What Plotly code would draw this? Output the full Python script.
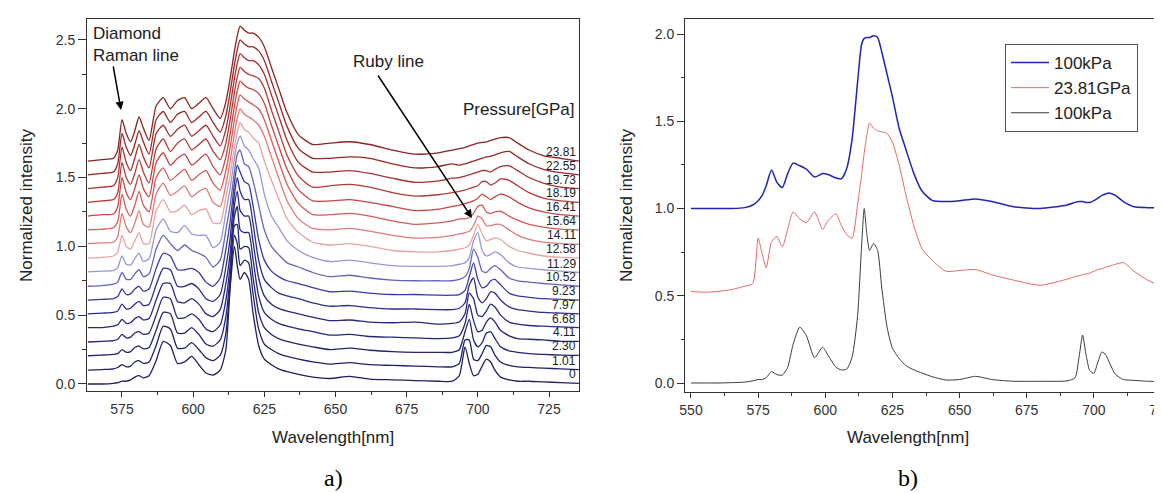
import plotly.graph_objects as go

W, H = 1162, 493
FONT = "Liberation Sans, Arial, sans-serif"

# ---------------- panel a) : stacked spectra ----------------
wavelength_a = [563, 568, 572, 573.5, 575, 576.5, 578, 579.5, 581, 582.5, 584.5,
                587, 589.5, 592, 594.5, 597, 599.5, 602, 604.5, 607, 609.5, 611.5,
                613, 614.5, 615.5, 616.5, 618, 619.5, 621, 623, 625, 627.5, 630, 633, 637,
                642, 648, 655, 662, 670, 678, 686, 691,
                693.5, 695.5, 697, 698.5, 700, 701.5, 703, 704.5, 706, 708, 711, 714, 718, 723, 729, 735.5]

pressure_labels = ["0", "1.01", "2.30", "4.11", "6.68", "7.97", "9.23", "10.52", "11.29",
                   "12.58", "14.11", "15.64", "16.41", "18.19", "19.73", "22.55", "23.81"]
offsets_a = [0.0, 0.1, 0.2, 0.3, 0.4, 0.5, 0.6, 0.7, 0.8, 0.9, 1.0, 1.1, 1.2, 1.3, 1.4, 1.5, 1.6]

spec_a_00 = [0.00, 0.00, 0.005, 0.01, 0.02, 0.02, 0.03, 0.05, 0.06, 0.045, 0.06,
             0.17, 0.31, 0.28, 0.15, 0.16, 0.20, 0.14, 0.08, 0.065, 0.10, 0.25,
             0.70, 1.00, 0.86, 0.76, 0.81, 0.76, 0.52, 0.28, 0.18, 0.14, 0.11, 0.09, 0.07,
             0.05, 0.04, 0.055, 0.035, 0.03, 0.025, 0.02, 0.02,
             0.06, 0.27, 0.15, 0.06, 0.07, 0.13, 0.18, 0.16, 0.10, 0.05, 0.03, 0.02, 0.02, 0.015, 0.01, 0.005]
spec_a_01 = [0.00, 0.005, 0.01, 0.02, 0.04, 0.025, 0.03, 0.06, 0.07, 0.05, 0.06,
             0.18, 0.32, 0.30, 0.16, 0.16, 0.20, 0.15, 0.09, 0.07, 0.11, 0.27,
             0.62, 0.98, 0.92, 0.76, 0.80, 0.78, 0.56, 0.30, 0.19, 0.15, 0.12, 0.10, 0.08,
             0.06, 0.045, 0.055, 0.04, 0.035, 0.03, 0.025, 0.025,
             0.05, 0.22, 0.22, 0.08, 0.07, 0.12, 0.18, 0.17, 0.11, 0.06, 0.035, 0.025, 0.02, 0.015, 0.01, 0.005]
spec_a_02 = [0.005, 0.01, 0.015, 0.02, 0.05, 0.03, 0.035, 0.065, 0.075, 0.055, 0.065,
             0.19, 0.32, 0.31, 0.17, 0.17, 0.21, 0.16, 0.09, 0.075, 0.12, 0.29,
             0.58, 0.95, 0.96, 0.78, 0.80, 0.79, 0.58, 0.32, 0.21, 0.16, 0.13, 0.11, 0.09,
             0.07, 0.05, 0.06, 0.045, 0.035, 0.03, 0.03, 0.03,
             0.05, 0.18, 0.27, 0.12, 0.07, 0.10, 0.17, 0.18, 0.13, 0.07, 0.04, 0.03, 0.02, 0.015, 0.01, 0.008]
spec_a_03 = [0.005, 0.01, 0.015, 0.025, 0.06, 0.035, 0.04, 0.07, 0.08, 0.06, 0.07,
             0.20, 0.33, 0.32, 0.18, 0.18, 0.21, 0.17, 0.10, 0.08, 0.13, 0.31,
             0.56, 0.92, 0.99, 0.82, 0.80, 0.80, 0.61, 0.34, 0.22, 0.17, 0.14, 0.12, 0.10,
             0.08, 0.055, 0.06, 0.045, 0.04, 0.035, 0.03, 0.035,
             0.05, 0.14, 0.28, 0.16, 0.08, 0.09, 0.15, 0.18, 0.15, 0.09, 0.05, 0.03, 0.025, 0.02, 0.01, 0.01]
spec_a_04 = [0.01, 0.01, 0.02, 0.03, 0.07, 0.04, 0.045, 0.075, 0.09, 0.065, 0.075,
             0.21, 0.33, 0.33, 0.20, 0.19, 0.22, 0.18, 0.11, 0.09, 0.14, 0.33,
             0.55, 0.90, 1.00, 0.86, 0.82, 0.82, 0.64, 0.37, 0.24, 0.18, 0.15, 0.13, 0.11,
             0.085, 0.06, 0.065, 0.05, 0.045, 0.05, 0.035, 0.04,
             0.05, 0.11, 0.26, 0.22, 0.10, 0.09, 0.13, 0.18, 0.16, 0.10, 0.05, 0.035, 0.025, 0.02, 0.015, 0.01]
spec_a_05 = [0.01, 0.015, 0.02, 0.03, 0.08, 0.045, 0.05, 0.08, 0.10, 0.07, 0.08,
             0.22, 0.34, 0.33, 0.21, 0.21, 0.23, 0.19, 0.12, 0.10, 0.15, 0.35,
             0.56, 0.88, 1.00, 0.90, 0.84, 0.84, 0.67, 0.40, 0.26, 0.20, 0.16, 0.14, 0.12,
             0.09, 0.065, 0.07, 0.055, 0.045, 0.045, 0.04, 0.04,
             0.05, 0.09, 0.22, 0.27, 0.13, 0.09, 0.12, 0.17, 0.16, 0.11, 0.06, 0.04, 0.03, 0.02, 0.015, 0.01]
spec_a_06 = [0.01, 0.015, 0.02, 0.035, 0.09, 0.05, 0.055, 0.09, 0.11, 0.075, 0.09,
             0.24, 0.35, 0.33, 0.23, 0.23, 0.24, 0.21, 0.14, 0.11, 0.17, 0.38,
             0.58, 0.86, 0.99, 0.94, 0.87, 0.85, 0.70, 0.45, 0.30, 0.22, 0.18, 0.15, 0.13,
             0.10, 0.07, 0.075, 0.06, 0.05, 0.05, 0.045, 0.045,
             0.05, 0.08, 0.18, 0.28, 0.16, 0.10, 0.11, 0.15, 0.16, 0.12, 0.06, 0.04, 0.03, 0.02, 0.015, 0.01]
spec_a_07 = [0.01, 0.015, 0.025, 0.04, 0.11, 0.06, 0.06, 0.10, 0.13, 0.08, 0.10,
             0.28, 0.38, 0.32, 0.27, 0.31, 0.27, 0.25, 0.22, 0.15, 0.20, 0.42,
             0.60, 0.84, 0.97, 1.00, 0.90, 0.88, 0.78, 0.60, 0.42, 0.30, 0.24, 0.18, 0.15,
             0.11, 0.08, 0.09, 0.07, 0.055, 0.05, 0.05, 0.05,
             0.06, 0.08, 0.14, 0.28, 0.22, 0.12, 0.11, 0.14, 0.16, 0.13, 0.07, 0.05, 0.04, 0.03, 0.02, 0.01]
spec_a_08 = [0.015, 0.02, 0.025, 0.045, 0.13, 0.07, 0.065, 0.11, 0.15, 0.09, 0.11,
             0.32, 0.40, 0.31, 0.30, 0.35, 0.29, 0.28, 0.28, 0.19, 0.23, 0.45,
             0.62, 0.84, 0.95, 1.00, 0.93, 0.90, 0.84, 0.77, 0.58, 0.42, 0.34, 0.24, 0.17,
             0.12, 0.09, 0.10, 0.08, 0.06, 0.055, 0.055, 0.06,
             0.07, 0.08, 0.12, 0.24, 0.30, 0.17, 0.13, 0.14, 0.16, 0.14, 0.08, 0.05, 0.04, 0.03, 0.02, 0.01]
spec_a_09 = [0.015, 0.02, 0.03, 0.06, 0.18, 0.10, 0.08, 0.14, 0.20, 0.12, 0.12,
             0.36, 0.44, 0.35, 0.36, 0.40, 0.33, 0.36, 0.37, 0.27, 0.27, 0.46,
             0.62, 0.82, 0.93, 1.00, 0.95, 0.93, 0.89, 0.85, 0.72, 0.58, 0.45, 0.30, 0.20,
             0.13, 0.11, 0.12, 0.10, 0.07, 0.06, 0.06, 0.07,
             0.08, 0.09, 0.11, 0.18, 0.26, 0.19, 0.14, 0.15, 0.16, 0.15, 0.10, 0.07, 0.05, 0.03, 0.02, 0.015]
spec_a_10 = [0.02, 0.025, 0.03, 0.07, 0.24, 0.14, 0.10, 0.17, 0.26, 0.16, 0.14,
             0.38, 0.46, 0.37, 0.40, 0.44, 0.36, 0.40, 0.42, 0.32, 0.29, 0.45,
             0.62, 0.82, 0.93, 1.00, 0.96, 0.94, 0.92, 0.88, 0.80, 0.65, 0.50, 0.33, 0.20,
             0.13, 0.12, 0.13, 0.11, 0.08, 0.06, 0.065, 0.08,
             0.09, 0.10, 0.11, 0.15, 0.22, 0.20, 0.15, 0.15, 0.16, 0.16, 0.12, 0.08, 0.05, 0.03, 0.02, 0.015]
spec_a_11 = [0.02, 0.025, 0.035, 0.08, 0.28, 0.17, 0.12, 0.20, 0.30, 0.20, 0.15,
             0.40, 0.47, 0.38, 0.42, 0.46, 0.38, 0.42, 0.45, 0.36, 0.31, 0.45,
             0.62, 0.82, 0.93, 1.00, 0.97, 0.95, 0.93, 0.90, 0.82, 0.67, 0.52, 0.35, 0.21,
             0.13, 0.13, 0.14, 0.12, 0.085, 0.06, 0.07, 0.085,
             0.10, 0.10, 0.11, 0.14, 0.19, 0.20, 0.15, 0.14, 0.15, 0.155, 0.12, 0.09, 0.06, 0.04, 0.025, 0.02]
spec_a_12 = [0.02, 0.03, 0.035, 0.09, 0.30, 0.19, 0.14, 0.22, 0.32, 0.22, 0.16,
             0.41, 0.48, 0.39, 0.44, 0.47, 0.39, 0.43, 0.47, 0.38, 0.32, 0.45,
             0.62, 0.82, 0.93, 1.00, 0.97, 0.95, 0.94, 0.91, 0.84, 0.68, 0.53, 0.36, 0.21,
             0.13, 0.13, 0.14, 0.12, 0.09, 0.06, 0.07, 0.09,
             0.10, 0.11, 0.12, 0.13, 0.15, 0.18, 0.16, 0.14, 0.16, 0.18, 0.16, 0.12, 0.08, 0.05, 0.03, 0.02]
spec_a_13 = [0.02, 0.03, 0.04, 0.09, 0.31, 0.20, 0.15, 0.23, 0.33, 0.24, 0.16,
             0.41, 0.48, 0.39, 0.45, 0.48, 0.40, 0.44, 0.48, 0.39, 0.33, 0.45,
             0.62, 0.82, 0.93, 1.00, 0.97, 0.95, 0.94, 0.92, 0.85, 0.69, 0.54, 0.36, 0.21,
             0.13, 0.14, 0.15, 0.13, 0.09, 0.065, 0.075, 0.09,
             0.10, 0.11, 0.12, 0.13, 0.14, 0.17, 0.17, 0.145, 0.16, 0.19, 0.18, 0.14, 0.09, 0.05, 0.03, 0.02]
spec_a_14 = [0.02, 0.03, 0.04, 0.10, 0.32, 0.21, 0.15, 0.24, 0.34, 0.25, 0.17,
             0.42, 0.48, 0.40, 0.45, 0.48, 0.40, 0.44, 0.48, 0.40, 0.33, 0.45,
             0.62, 0.82, 0.93, 1.00, 0.97, 0.95, 0.95, 0.92, 0.85, 0.70, 0.55, 0.37, 0.21,
             0.14, 0.14, 0.15, 0.13, 0.095, 0.065, 0.075, 0.095,
             0.10, 0.11, 0.12, 0.13, 0.14, 0.15, 0.15, 0.14, 0.16, 0.18, 0.185, 0.15, 0.10, 0.06, 0.03, 0.02]
spec_a_15 = [0.02, 0.03, 0.04, 0.10, 0.32, 0.22, 0.16, 0.24, 0.34, 0.26, 0.17,
             0.42, 0.48, 0.40, 0.46, 0.48, 0.40, 0.44, 0.48, 0.40, 0.33, 0.45,
             0.62, 0.82, 0.93, 1.00, 0.97, 0.95, 0.95, 0.92, 0.85, 0.70, 0.55, 0.37, 0.21,
             0.14, 0.14, 0.15, 0.14, 0.10, 0.07, 0.08, 0.10,
             0.09, 0.10, 0.11, 0.12, 0.13, 0.14, 0.15, 0.155, 0.165, 0.18, 0.19, 0.15, 0.10, 0.06, 0.035, 0.02]
spec_a_16 = [0.02, 0.03, 0.04, 0.10, 0.32, 0.22, 0.16, 0.24, 0.34, 0.26, 0.17,
             0.42, 0.48, 0.40, 0.46, 0.48, 0.40, 0.44, 0.48, 0.40, 0.33, 0.45,
             0.62, 0.82, 0.93, 1.00, 0.97, 0.95, 0.95, 0.92, 0.85, 0.70, 0.55, 0.37, 0.21,
             0.14, 0.15, 0.16, 0.14, 0.10, 0.07, 0.08, 0.10,
             0.11, 0.12, 0.13, 0.14, 0.15, 0.155, 0.16, 0.17, 0.18, 0.19, 0.19, 0.15, 0.10, 0.06, 0.04, 0.02]

spectra_a = [spec_a_00, spec_a_01, spec_a_02, spec_a_03, spec_a_04, spec_a_05, spec_a_06,
             spec_a_07, spec_a_08, spec_a_09, spec_a_10, spec_a_11, spec_a_12, spec_a_13,
             spec_a_14, spec_a_15, spec_a_16]

colors_a = ['#202060', '#222268', '#242470', '#262678', '#282880', '#2c2c8c', '#3a3aa4',
            '#6464c0', '#9898d8', '#e8a4a4', '#e07a7a', '#d45a5a', '#c44646', '#b43a3a',
            '#a63030', '#982828', '#8c2222']

# ---------------- panel b) ----------------
wavelength_b = [550, 555, 560, 565, 570, 573, 575, 576.5, 578, 580, 582, 584, 586, 588, 590.5,
                593, 596, 599, 601, 604, 606, 608, 610, 612, 613.5, 614.5, 615.5, 616.5, 618, 619.5,
                621, 623, 625, 627.5, 630, 633, 636, 640, 645, 650, 656, 662, 670, 680, 690,
                693, 694.5, 695.8, 697, 698.5, 700, 701.5, 703, 704.5, 706, 708, 711, 715, 720, 725, 728.5]

spec_b_released = [0.0, 0.0, 0.0, 0.0, 0.005,
                   0.02, 0.045, 0.075, 0.13, 0.22,
                   0.15, 0.12, 0.20, 0.26, 0.245,
                   0.225, 0.18, 0.20, 0.195, 0.175,
                   0.17, 0.23, 0.40, 0.72, 0.94,
                   0.975, 0.98, 0.98, 0.99, 0.98,
                   0.90, 0.77, 0.64, 0.46, 0.34,
                   0.20, 0.10, 0.045, 0.04, 0.045,
                   0.055, 0.04, 0.01, 0.0, 0.02,
                   0.035, 0.04, 0.04, 0.035, 0.035,
                   0.045, 0.06, 0.075, 0.085, 0.088,
                   0.075, 0.04, 0.01, 0.005, 0.003,
                   0.0]
spec_b_high = [0.025, 0.02, 0.025, 0.035, 0.055,
               0.07, 0.33, 0.24, 0.16, 0.31,
               0.34, 0.28, 0.38, 0.48, 0.44,
               0.42, 0.48, 0.38, 0.43, 0.47,
               0.40, 0.35, 0.33, 0.52, 0.69,
               0.82, 0.92, 0.99, 0.96, 0.945,
               0.94, 0.93, 0.88, 0.75, 0.58,
               0.40, 0.27, 0.20, 0.14, 0.145,
               0.15, 0.12, 0.09, 0.06, 0.095,
               0.11, 0.115, 0.12, 0.125, 0.13,
               0.14, 0.15, 0.155, 0.165, 0.17,
               0.18, 0.19, 0.14, 0.09, 0.055,
               0.04]
spec_b_ambient = [0.0, 0.0, 0.0, 0.002, 0.005,
                  0.012, 0.02, 0.02, 0.03, 0.065,
                  0.048, 0.045, 0.09, 0.22, 0.32,
                  0.27, 0.145, 0.205, 0.16, 0.09,
                  0.075, 0.08, 0.15, 0.38, 0.78,
                  1.0, 0.85, 0.76, 0.80, 0.76,
                  0.55, 0.32, 0.20, 0.14, 0.10,
                  0.075, 0.057, 0.035, 0.017, 0.02,
                  0.038, 0.02, 0.01, 0.01, 0.012,
                  0.03, 0.15, 0.275, 0.17, 0.07,
                  0.055, 0.12, 0.178, 0.16, 0.11,
                  0.05, 0.02, 0.015, 0.01, 0.008,
                  0.005]

spectra_b = [spec_b_released, spec_b_high, spec_b_ambient]
names_b = ["100kPa", "23.81GPa", "100kPa"]
offsets_b = [1.0, 0.5, 0.0]
colors_b = ['#2424b4', '#e26a6a', '#3c3c3c']
widths_b = [1.5, 1.0, 1.0]

fig = go.Figure()

for i, spec in enumerate(spectra_a):
    off = offsets_a[i]
    fig.add_trace(go.Scatter(
        x=wavelength_a, y=[v + off for v in spec], mode='lines',
        line=dict(color=colors_a[i], width=1.3, shape='spline', smoothing=0.6),
        xaxis='x', yaxis='y', showlegend=False, hoverinfo='skip'))
    fig.add_annotation(x=735.3, y=off + spec[-1], xref='x', yref='y',
                       text=pressure_labels[i], showarrow=False,
                       xanchor='right', yanchor='bottom',
                       font=dict(family=FONT, size=12, color='#222'))

for i, spec in enumerate(spectra_b):
    off = offsets_b[i]
    fig.add_trace(go.Scatter(
        x=wavelength_b, y=[v + off for v in spec], mode='lines', name=names_b[i],
        line=dict(color=colors_b[i], width=widths_b[i], shape='spline', smoothing=0.6),
        xaxis='x2', yaxis='y2', showlegend=True, hoverinfo='skip'))

axis_common = dict(showline=True, linecolor='#333', linewidth=1, mirror=True,
                   ticks='outside', tickcolor='#333', tickwidth=1,
                   showgrid=False, zeroline=False, automargin=False,
                   ticklabeloverflow='allow',
                   tickfont=dict(family=FONT, size=14, color='#333'))

fig.update_layout(
    width=W, height=H, autosize=False,
    margin=dict(l=0, r=0, t=0, b=0),
    paper_bgcolor='white', plot_bgcolor='white',
    template='none',
    xaxis=dict(domain=[79 / W, 571 / W], range=[562.71, 735.54], anchor='y',
               tickmode='linear', tick0=0, dtick=25, ticklen=5,
               minor=dict(dtick=12.5, tick0=0, ticklen=3, ticks='outside', tickcolor='#333'),
               **axis_common),
    yaxis=dict(domain=[1 - 383 / H, 1 - 11 / H], range=[-0.051, 2.652], anchor='x',
               tickmode='linear', tick0=0, dtick=0.5, tickformat='.1f', ticklen=8,
               minor=dict(dtick=0.25, tick0=0, ticklen=4, ticks='outside', tickcolor='#333'),
               **axis_common),
    xaxis2=dict(domain=[677 / W, 1.0], range=[547.77, 728.35], anchor='y2',
                tickmode='linear', tick0=0, dtick=25, ticklen=5,
                minor=dict(dtick=12.5, tick0=0, ticklen=3, ticks='outside', tickcolor='#333'),
                **axis_common),
    yaxis2=dict(domain=[1 - 384 / H, 1 - 11 / H], range=[-0.0516, 2.086], anchor='x2',
                tickmode='linear', tick0=0, dtick=0.5, tickformat='.1f', ticklen=7,
                minor=dict(dtick=0.25, tick0=0, ticklen=3, ticks='outside', tickcolor='#333'),
                **axis_common),
    legend=dict(x=997 / W, y=1 - 36 / H, xanchor='left', yanchor='top',
                bordercolor='#555', borderwidth=1, bgcolor='white',
                font=dict(family=FONT, size=17, color='#222'),
                tracegroupgap=0, itemwidth=38),
    showlegend=True,
)

def ann(text, px, py, size=17, xanchor='center', yanchor='middle', angle=0,
        family=FONT, color='#222', align='left'):
    fig.add_annotation(x=px / W, y=1 - py / H, xref='paper', yref='paper', text=text,
                       showarrow=False, xanchor=xanchor, yanchor=yanchor, textangle=angle,
                       align=align, font=dict(family=family, size=size, color=color))

# texts
ann("Diamond<br>Raman line", 83, 14, xanchor='left', yanchor='top')
ann("Ruby line", 343, 53, xanchor='left')
ann("Pressure[GPa]", 569, 102, xanchor='right')
ann("Wavelength[nm]", 325, 429, size=17)
ann("Wavelength[nm]", 900, 429, size=17)
ann("Normalized intensity", 18, 197, size=17, angle=-90)
ann("Normalized intensity", 618, 197, size=17, angle=-90)
ann("a)", 325, 470, size=24, family="Liberation Serif, Times New Roman, serif", color='black')
ann("b)", 900, 470, size=24, family="Liberation Serif, Times New Roman, serif", color='black')

# arrows
for (hx, hy, tx, ty) in [(113, 102, 105, 57), (464, 210, 369, 66)]:
    fig.add_annotation(x=hx / W, y=1 - hy / H, xref='paper', yref='paper', text='',
                       showarrow=True, ax=tx - hx, ay=ty - hy, axref='pixel', ayref='pixel',
                       arrowhead=2, arrowsize=1.1, arrowwidth=1.5, arrowcolor='black', standoff=0)

fig.write_html("out.html")
